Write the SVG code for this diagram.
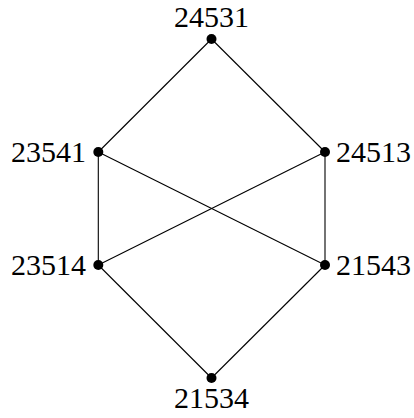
<svg xmlns="http://www.w3.org/2000/svg" width="414" height="418" viewBox="0 0 414 418">
<style>
.e{stroke:#000;stroke-width:1.1;fill:none}
.n{fill:#000}
.t{font-family:"Liberation Serif","DejaVu Serif",serif;font-size:30px;fill:#000}
</style>
<rect width="414" height="418" fill="#fff"/>
<g id="connectors">
<line class="e" x1="211.5" y1="39" x2="98.3" y2="152"/>
<line class="e" x1="211.5" y1="39" x2="325" y2="152"/>
<line class="e" x1="98.3" y1="152" x2="98.3" y2="265"/>
<line class="e" x1="325" y1="152" x2="325" y2="265"/>
<line class="e" x1="98.3" y1="152" x2="325" y2="265"/>
<line class="e" x1="325" y1="152" x2="98.3" y2="265"/>
<line class="e" x1="98.3" y1="265" x2="211.5" y2="378"/>
<line class="e" x1="325" y1="265" x2="211.5" y2="378"/>
</g>
<g id="n24531"><circle class="n" cx="211.5" cy="39" r="5"/><text class="t" x="211.5" y="27" text-anchor="middle">24531</text></g>
<g id="n23541"><circle class="n" cx="98.3" cy="152" r="5"/><text class="t" x="86" y="162" text-anchor="end">23541</text></g>
<g id="n24513"><circle class="n" cx="325" cy="152" r="5"/><text class="t" x="336" y="162">24513</text></g>
<g id="n23514"><circle class="n" cx="98.3" cy="265" r="5"/><text class="t" x="86" y="275" text-anchor="end">23514</text></g>
<g id="n21543"><circle class="n" cx="325" cy="265" r="5"/><text class="t" x="336" y="275">21543</text></g>
<g id="n21534"><circle class="n" cx="211.5" cy="378" r="5"/><text class="t" x="211.5" y="408" text-anchor="middle">21534</text></g>
</svg>
